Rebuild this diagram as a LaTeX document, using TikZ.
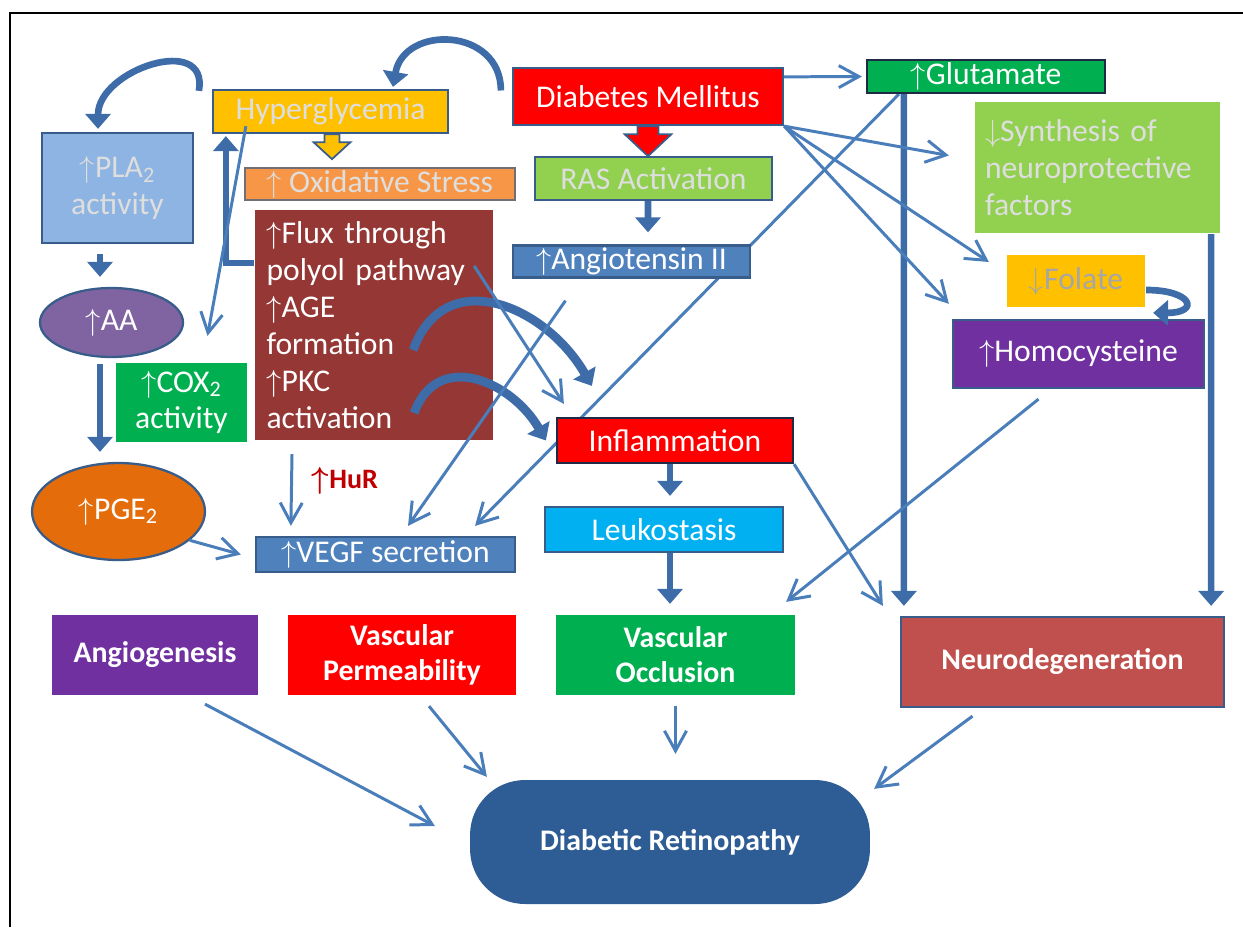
\documentclass[tikz,border=0pt]{standalone}
\usepackage{fontspec}
\setmainfont{Carlito}
\usepackage{tikz}
\usetikzlibrary{positioning}
\usetikzlibrary{calc}
\usetikzlibrary{arrows.meta}
\usetikzlibrary{shapes.geometric}
\usetikzlibrary{backgrounds}

\definecolor{lineblue}{HTML}{4A7EBB}
\definecolor{thickblue}{HTML}{3D6CA8}
\definecolor{edgeblue}{HTML}{385D8A}
\definecolor{darkedge}{HTML}{1F2A44}
\definecolor{hypyellow}{HTML}{FFC000}
\definecolor{oxorange}{HTML}{F79646}
\definecolor{polybrown}{HTML}{953735}
\definecolor{plablue}{HTML}{8DB4E2}
\definecolor{aapurple}{HTML}{8064A2}
\definecolor{coxgreen}{HTML}{00B050}
\definecolor{pgeorange}{HTML}{E46C0A}
\definecolor{vegfblue}{HTML}{4F81BD}
\definecolor{dmred}{HTML}{FF0000}
\definecolor{rasgreen}{HTML}{92D050}
\definecolor{leukoblue}{HTML}{00B0F0}
\definecolor{deeppurple}{HTML}{7030A0}
\definecolor{neurored}{HTML}{C0504D}
\definecolor{drblue}{HTML}{2E5C94}
\definecolor{hurred}{HTML}{C00000}
\definecolor{palegray}{HTML}{DEDEDE}
\definecolor{folgray}{HTML}{A6A6A6}

\newcommand{\upar}{$\uparrow$}
\newcommand{\dnar}{$\downarrow$}

\pgfdeclarelayer{front}
\pgfsetlayers{background,main,front}

\tikzset{
  box/.style={draw=edgeblue, line width=1.3pt, inner sep=0pt, align=center, text=white, font=\fontsize{18}{21}\selectfont},
  flat/.style={box, draw=none},
  pale/.style={text=palegray},
  endbox/.style={flat, font=\bfseries\fontsize{17}{20}\selectfont},
  flowline/.style={lineblue, line width=1.7pt, -{Straight Barb[length=4mm, width=4.4mm]}},
  fatline/.style={thickblue, line width=3.8pt, -{Triangle[length=3mm, width=5mm]}},
}

\begin{document}
\begin{tikzpicture}[x=0.02cm, y=-0.02cm]
\useasboundingbox (0,0) rectangle (1243,927);
\draw[line width=1.2pt] (10,927) -- (10,13) -- (1243,13);

% left column
\node[box, fill=plablue, pale, minimum width=3.02cm, minimum height=2.2cm] (pla) at (117.5,188) {\upar PLA\textsubscript{2}\\activity};
\node[box, ellipse, fill=aapurple, minimum width=2.86cm, minimum height=1.38cm] (aa) at (111.5,322.5) {\upar AA};
\node[flat, fill=coxgreen, minimum width=2.62cm, minimum height=1.58cm] (cox) at (181.5,402.5) {\upar COX\textsubscript{2}\\activity};
\node[box, ellipse, fill=pgeorange, minimum width=3.46cm, minimum height=1.94cm] (pge) at (118.5,511.5) {\upar PGE\textsubscript{2}};

% middle column
\node[box, fill=hypyellow, pale, minimum width=4.7cm, minimum height=0.86cm] (hyper) at (330.5,111.5) {Hyperglycemia};
\node[box, draw=edgeblue!70!oxorange, fill=oxorange, pale, minimum width=5.4cm, minimum height=0.64cm] (oxid) at (380,184) {\upar\ Oxidative Stress};
\node[flat, fill=polybrown, align=left, text width=4.3cm, inner xsep=0.23cm, minimum height=4.6cm] (polyol) at (374,325)
  {\upar Flux through\\polyol pathway\\\upar AGE\\formation\\\upar PKC\\activation};
\node[box, fill=vegfblue, minimum width=5.18cm, minimum height=0.7cm] (vegf) at (385.5,554.5) {\upar VEGF secretion};
\node[text=hurred, font=\bfseries\fontsize{16}{18}\selectfont] (hur) at (345,481) {{\boldmath$\uparrow$}HuR};

% centre column
\node[box, fill=dmred, minimum width=5.4cm, minimum height=1.14cm] (dm) at (648,96.5) {Diabetes Mellitus};
\node[box, fill=rasgreen, pale, minimum width=4.74cm, minimum height=0.86cm] (ras) at (653.5,178.5) {RAS Activation};
\begin{pgfonlayer}{front}
\node[box, fill=vegfblue, minimum width=4.74cm, minimum height=0.64cm] (angio) at (631.5,261.5) {\upar Angiotensin II};
\end{pgfonlayer}
\node[box, draw=darkedge, fill=dmred, minimum width=4.72cm, minimum height=0.9cm] (infl) at (675,440.5) {Inflammation};
\node[box, fill=leukoblue, minimum width=4.76cm, minimum height=0.9cm] (leuko) at (664,529.5) {Leukostasis};

% right column
\node[box, draw=darkedge, fill=coxgreen, minimum width=4.76cm, minimum height=0.66cm] (glut) at (986,76.5) {\upar Glutamate};
\node[flat, fill=rasgreen, pale, align=left, text width=4.5cm, inner xsep=0.2cm, minimum height=2.62cm] (synth) at (1097.5,167.5)
  {\dnar Synthesis of\\neuroprotective\\factors};
\node[flat, fill=hypyellow, text=folgray, minimum width=2.76cm, minimum height=1.04cm] (folate) at (1076,281) {\dnar Folate};
\node[box, fill=deeppurple, minimum width=5.02cm, minimum height=1.36cm] (homo) at (1078.5,354) {\upar Homocysteine};

% bottom row
\node[endbox, fill=deeppurple, minimum width=4.12cm, minimum height=1.6cm] (angiog) at (155,655) {Angiogenesis};
\node[endbox, fill=dmred, minimum width=4.56cm, minimum height=1.6cm] (perm) at (402,655) {Vascular\\Permeability};
\node[endbox, fill=coxgreen, minimum width=4.78cm, minimum height=1.6cm] (occl) at (675.5,655) {Vascular\\Occlusion};
\node[endbox, fill=neurored, draw=edgeblue, minimum width=6.46cm, minimum height=1.8cm] (neuro) at (1062.5,662) {Neurodegeneration};
\node[endbox, fill=drblue, rounded corners=1.1cm, minimum width=8cm, minimum height=2.48cm] (dr) at (670,842) {Diabetic Retinopathy};

% block arrows
\filldraw[fill=hypyellow, draw=edgeblue, line width=1pt] ($(hyper.south)+(1.5,0)$) ++(-7.5,0) -- ++(0,8) -- ++(-11,0) -- ++(18.5,17) -- ++(18.5,-17) -- ++(-11,0) -- ++(0,-8) -- cycle;
\filldraw[fill=dmred, draw=edgeblue, line width=1pt] (dm.south) ++(-10.5,0) -- ++(0,8) -- ++(-13,0) -- ++(23.5,22) -- ++(23.5,-22) -- ++(-13,0) -- ++(0,-8) -- cycle;

% thick arrows
\draw[fatline] ($(dm.west)+(-11,-6)$) to[out=90, in=80, looseness=1.5] ($(hyper.north)+(62.5,-2)$);
\draw[fatline] ($(hyper.north west)+(-13,2)$) to[out=80, in=90, looseness=1.4] ($(pla.north)+(-19.5,-3)$);
\draw[fatline] ($(polyol.west)+(0,-62)$) -| ($(hyper.south west)+(14,2)$);
\draw[fatline] ($(pla.south)+(-17.5,10)$) -- ($(aa.north)+(-11.5,-10)$);
\draw[fatline] ($(aa.south)+(-11.5,6)$) -- ($(pge.north)+(-18.5,-10)$);
\draw[fatline] ($(ras.south)+(-5.5,0)$) -- ($(angio.north)+(16.5,-12)$);
\draw[fatline] ($(infl.south)+(-5,0)$) -- ($(leuko.north)+(6,-10)$);
\draw[fatline] ($(leuko.south)+(6,0)$) -- ($(occl.north)+(-5.5,-10)$);
\draw[fatline] ($(glut.south west)+(38,0)$) -- ($(neuro.north west)+(4,-10)$);
\draw[fatline] ($(synth.south east)+(-10,0)$) -- ($(neuro.north east)+(-14,-10)$);
\draw[fatline] ($(folate.east)+(0,9)$) to[out=0, in=0, looseness=5] ($(homo.north east)+(-52,-6)$);
\draw[fatline, line width=5pt] ($(polyol.east)+(-81,25)$) to[out=70, in=120, looseness=1.3] ($(infl.north west)+(36,-31)$);
\draw[fatline, line width=5pt] ($(polyol.east)+(-80,88)$) to[out=70, in=120, looseness=1.3] ($(infl.west)+(-10,0)$);

% thin arrows
\begin{pgfonlayer}{background}
\draw[flowline] ($(glut.south west)+(33,0)$) -- ($(vegf.north)+(89.5,-10)$);
\end{pgfonlayer}
\draw[flowline] ($(dm.north east)+(0,10)$) -- ($(glut.west)+(-4,0)$);
\draw[flowline] (dm.south east) -- ($(synth.west)+(-25,-12)$);
\draw[flowline] (dm.south east) -- ($(folate.west)+(-17,-19)$);
\draw[flowline] (dm.south east) -- ($(homo.north west)+(-3,-15)$);
\draw[flowline] ($(angio.south)+(-66,22)$) -- ($(vegf.north)+(22.5,-10)$);
\draw[flowline] ($(hyper.south west)+(34,-8)$) -- ($(cox.north)+(26,-26)$);
\draw[flowline] ($(polyol.north east)+(-20,57)$) -- ($(infl.north west)+(8,-13)$);
\draw[flowline] ($(polyol.south)+(-82,13)$) -- ($(vegf.north west)+(36,-10)$);
\draw[flowline] (pge.-22) -- ($(vegf.west)+(-14,0)$);
\draw[flowline] ($(homo.south)+(-40,10)$) -- ($(occl.north east)+(-10,-12)$);
\draw[flowline] (infl.south east) -- ($(neuro.north west)+(-17,-10)$);
\draw[flowline] ($(angiog.south)+(50,8)$) -- ($(dr.west)+(-34,-16)$);
\draw[flowline] ($(perm.south)+(27,10)$) -- ($(dr.north west)+(18,-2)$);
\draw[flowline] ($(occl.south)+(0,10)$) -- ($(dr.north)+(5.5,-25)$);
\draw[flowline] ($(neuro.south)+(-90,8)$) -- ($(dr.north east)+(3,10)$);
\end{tikzpicture}
\end{document}
